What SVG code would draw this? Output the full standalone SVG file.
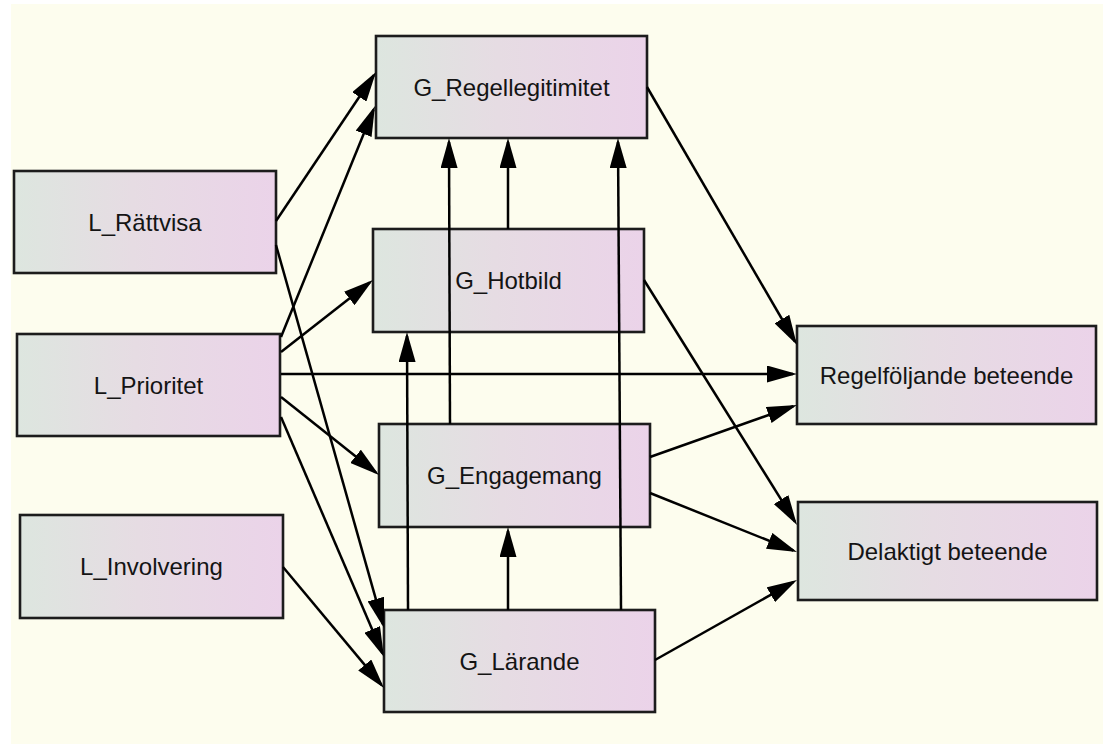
<svg xmlns="http://www.w3.org/2000/svg" width="1103" height="744" viewBox="0 0 1103 744">
<style>
.node rect{fill:url(#g);stroke:#1c1c1c;stroke-width:2.6}
.node text{font-family:"Liberation Sans",Arial,sans-serif;font-size:24px;fill:#141414;text-anchor:middle}
.edges line{stroke:#000;stroke-width:2.5;marker-end:url(#arr)}
</style>
<defs>
<linearGradient id="g" x1="0" y1="0" x2="1" y2="0">
<stop offset="0" stop-color="#dde6df"/>
<stop offset="0.45" stop-color="#e6dce3"/>
<stop offset="1" stop-color="#ebd3e9"/>
</linearGradient>
<marker id="arr" markerUnits="userSpaceOnUse" markerWidth="30" markerHeight="17" refX="26" refY="8.5" orient="auto">
<path d="M0,0 L30,8.5 L0,17 Z" fill="#000"/>
</marker>
</defs>
<rect x="0" y="0" width="1103" height="744" fill="#ffffff"/>
<rect x="11" y="4" width="1092" height="740" fill="#fdfdee"/>
<g id="n-rattvisa" class="node"><rect x="14" y="171" width="262" height="102"/><text x="145" y="230.5">L_Rättvisa</text></g>
<g id="n-prioritet" class="node"><rect x="17" y="334" width="263" height="102"/><text x="148.5" y="393.5">L_Prioritet</text></g>
<g id="n-involvering" class="node"><rect x="20" y="515" width="263" height="103"/><text x="151.5" y="575">L_Involvering</text></g>
<g id="n-regellegitimitet" class="node"><rect x="376" y="36" width="271" height="102"/><text x="511.5" y="95.5">G_Regellegitimitet</text></g>
<g id="n-hotbild" class="node"><rect x="373" y="229" width="271" height="103"/><text x="508.5" y="289">G_Hotbild</text></g>
<g id="n-engagemang" class="node"><rect x="379" y="424" width="271" height="103"/><text x="514.5" y="484">G_Engagemang</text></g>
<g id="n-larande" class="node"><rect x="384" y="610" width="271" height="102"/><text x="519.5" y="669.5">G_Lärande</text></g>
<g id="n-regelfoljande" class="node"><rect x="797" y="326" width="299" height="98"/><text x="946.5" y="383.5">Regelföljande beteende</text></g>
<g id="n-delaktigt" class="node"><rect x="798" y="502" width="299" height="98"/><text x="947.5" y="559.5">Delaktigt beteende</text></g>
<g id="connectors" class="edges">
<line x1="276" y1="221" x2="373.8" y2="75.3"/>
<line x1="281" y1="337" x2="373.5" y2="109.7"/>
<line x1="276" y1="245" x2="382.9" y2="624.1"/>
<line x1="281" y1="352" x2="369.8" y2="282.5"/>
<line x1="281" y1="374" x2="793" y2="374"/>
<line x1="281" y1="397" x2="375.9" y2="472.5"/>
<line x1="281" y1="417" x2="382.4" y2="653.3"/>
<line x1="283" y1="567" x2="381.4" y2="684.9"/>
<line x1="508" y1="229" x2="508" y2="142"/>
<line x1="450" y1="424" x2="449" y2="142"/>
<line x1="621" y1="610" x2="618" y2="142"/>
<line x1="408" y1="610" x2="407" y2="336"/>
<line x1="508" y1="610" x2="508" y2="531"/>
<line x1="647" y1="87" x2="795" y2="341.5"/>
<line x1="644" y1="280" x2="794.9" y2="521.6"/>
<line x1="650" y1="457" x2="793.2" y2="406.3"/>
<line x1="650" y1="493" x2="793.3" y2="550.5"/>
<line x1="655" y1="660" x2="793.5" y2="582"/>
</g>
</svg>
